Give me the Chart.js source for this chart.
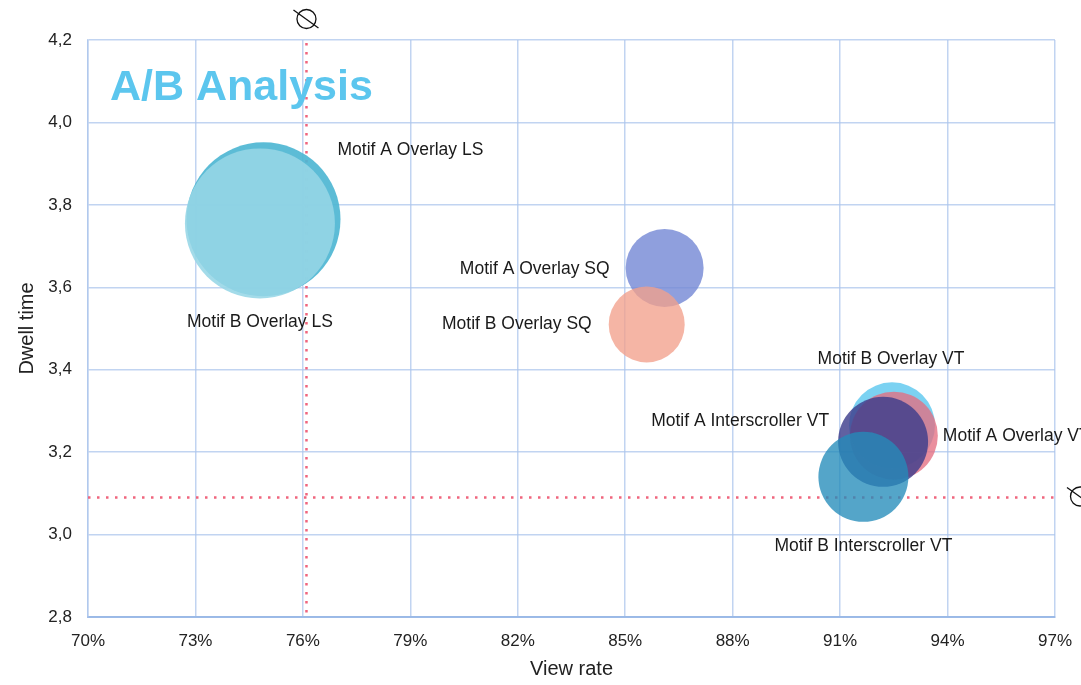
<!DOCTYPE html>
<html><head><meta charset="utf-8">
<script src="https://cdn.jsdelivr.net/npm/chart.js@4.4.1/dist/chart.umd.min.js"></script>
<style>html,body{margin:0;padding:0;background:#fff}#wrap{width:1081px;height:685px;position:relative;overflow:hidden}</style>
</head><body><div id="wrap"><canvas id="c" width="1081" height="685"></canvas></div>
<script>
// ---- data ----
const labels = ["Motif A Overlay LS","Motif B Overlay LS","Motif A Overlay SQ","Motif B Overlay SQ","Motif B Overlay VT","Motif A Overlay VT","Motif A Interscroller VT","Motif B Interscroller VT"];
const viewRate = [74.9, 74.8, 86.1, 85.6, 92.45, 92.5, 92.2, 91.65];
const dwellTime = [3.765, 3.755, 3.647, 3.51, 3.265, 3.24, 3.225, 3.14];
const bubbleSize = [77, 75, 39, 38, 43, 44, 45, 45];
const avgViewRate = 76.1;
const avgDwellTime = 3.09;
const xTicks = [70, 73, 76, 79, 82, 85, 88, 91, 94, 97];
const yTicks = [2.8, 3.0, 3.2, 3.4, 3.6, 3.8, 4.0, 4.2];
const chartTitle = "A/B Analysis";

// ---- styles ----
const colors = [
  'rgba(78,182,210,0.92)',
  'rgba(150,214,230,0.88)',
  'rgba(118,138,214,0.82)',
  'rgba(242,160,140,0.78)',
  'rgba(100,202,240,0.85)',
  'rgba(228,110,130,0.78)',
  'rgba(62,62,140,0.82)',
  'rgba(36,140,186,0.78)'
];
const labelLayout = [
  {align:'left', dx:74, dy:-69},
  {align:'center', dx:0, dy:99},
  {align:'right', dx:-55, dy:1},
  {align:'right', dx:-55, dy:0},
  {align:'center', dx:-1, dy:-66},
  {align:'left', dx:49, dy:1},
  {align:'right', dx:-54, dy:-21},
  {align:'center', dx:0, dy:69}
];
const FONT = '"Liberation Sans", Arial, Helvetica, sans-serif';
const gridColor = 'rgba(172,198,236,0.75)';

const points = labels.map((l, i) => ({x: viewRate[i], y: dwellTime[i], r: bubbleSize[i], label: l}));

function drawAvgSymbol(ctx, cx, cy) {
  ctx.save();
  ctx.strokeStyle = '#111';
  ctx.lineWidth = 1.3;
  ctx.beginPath();
  ctx.arc(cx, cy, 9.5, 0, Math.PI * 2);
  ctx.stroke();
  ctx.beginPath();
  ctx.moveTo(cx - 13, cy - 9);
  ctx.lineTo(cx + 12, cy + 9);
  ctx.stroke();
  ctx.restore();
}

const overlay = {
  id: 'overlay',
  beforeDatasetsDraw(chart) {
    const {ctx, chartArea: a, scales: {x, y}} = chart;
    ctx.save();
    ctx.strokeStyle = '#f0657d';
    ctx.lineWidth = 2.5;
    ctx.setLineDash([2.5, 6.5]);
    const px = x.getPixelForValue(avgViewRate);
    ctx.beginPath(); ctx.moveTo(px, a.top + 3); ctx.lineTo(px, a.bottom); ctx.stroke();
    const py = y.getPixelForValue(avgDwellTime);
    ctx.beginPath(); ctx.moveTo(a.left, py); ctx.lineTo(a.right, py); ctx.stroke();
    ctx.restore();
    // title
    ctx.save();
    ctx.fillStyle = '#5cc6ee';
    ctx.font = 'bold 43px ' + FONT;
    ctx.textBaseline = 'alphabetic';
    ctx.textAlign = 'left';
    ctx.fillText(chartTitle, a.left + 22, 100);
    ctx.restore();
  },
  afterDatasetsDraw(chart) {
    const {ctx, chartArea: a, scales: {x, y}} = chart;
    const meta = chart.getDatasetMeta(0);
    ctx.save();
    ctx.fillStyle = '#1a1a1a';
    ctx.font = '17.5px ' + FONT;
    ctx.textBaseline = 'middle';
    meta.data.forEach((el, i) => {
      const L = labelLayout[i];
      ctx.textAlign = L.align;
      ctx.fillText(labels[i], el.x + L.dx, el.y + L.dy);
    });
    ctx.restore();
    drawAvgSymbol(ctx, x.getPixelForValue(avgViewRate), 19);
    drawAvgSymbol(ctx, 1080, y.getPixelForValue(avgDwellTime) - 1);
  }
};

new Chart(document.getElementById('c'), {
  type: 'bubble',
  data: {
    datasets: [{
      label: 'A/B',
      data: points,
      backgroundColor: colors,
      borderColor: 'rgba(0,0,0,0)',
      borderWidth: 0,
      hoverBorderWidth: 0
    }]
  },
  options: {
    responsive: false,
    animation: false,
    events: [],
    clip: false,
    layout: {autoPadding: false, padding: {left: 11, right: 26, top: 40, bottom: 0}},
    plugins: {legend: {display: false}, tooltip: {enabled: false}},
    scales: {
      x: {
        type: 'linear',
        min: xTicks[0], max: xTicks[xTicks.length - 1],
        afterBuildTicks: s => { s.ticks = xTicks.map(v => ({value: v})); },
        afterFit: s => { s.height = 68; s.paddingRight = 0; s.paddingLeft = 0; },
        ticks: {
          padding: 14,
          color: '#222',
          font: {family: FONT, size: 17},
          maxRotation: 0,
          callback: v => v + '%'
        },
        grid: {color: gridColor, lineWidth: 1.5, drawTicks: false},
        border: {color: 'rgba(150,182,230,0.9)', width: 2},
        title: {display: true, text: 'View rate', color: '#222', font: {family: FONT, size: 20}, padding: {top: 4, bottom: 4}}
      },
      y: {
        type: 'linear',
        min: yTicks[0], max: yTicks[yTicks.length - 1],
        afterBuildTicks: s => { s.ticks = yTicks.map(v => ({value: v})); },
        afterFit: s => { s.width = 77; s.paddingTop = 0; s.paddingBottom = 0; },
        ticks: {
          padding: 16,
          color: '#222',
          font: {family: FONT, size: 17},
          callback: v => v.toFixed(1).replace('.', ',')
        },
        grid: {color: gridColor, lineWidth: 1.5, drawTicks: false},
        border: {color: gridColor, width: 1.5},
        title: {display: true, text: 'Dwell time', color: '#222', font: {family: FONT, size: 20}, padding: {top: 4, bottom: 4}}
      }
    }
  },
  plugins: [overlay]
});
</script>
</body></html>
